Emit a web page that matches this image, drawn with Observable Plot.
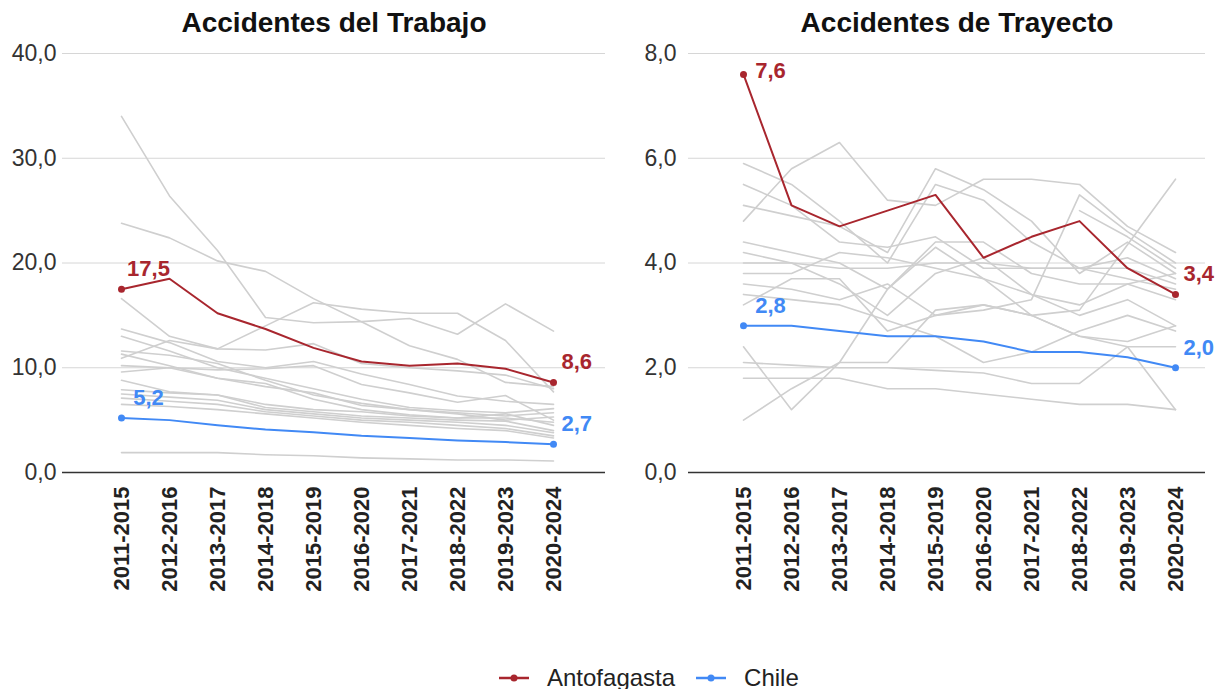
<!DOCTYPE html>
<html>
<head>
<meta charset="utf-8">
<script src="https://cdn.jsdelivr.net/npm/d3@7"></script>
<script src="https://cdn.jsdelivr.net/npm/@observablehq/plot@0.6"></script>
<style>
  html, body { margin: 0; padding: 0; background: #fff; }
  body { width: 1224px; height: 689px; position: relative; overflow: hidden; font-family: "Liberation Sans", Arial, sans-serif; }
  #charts { display: flex; flex-direction: row; }
  .panel { width: 612px; position: relative; }
  .title { position: absolute; top: 0; left: 0; width: 612px; padding-top: 8px; line-height: 30px; font-size: 28px; font-weight: bold; color: #111; text-align: center; }
  #left .title { transform: translateX(28px); }
  #right .title { transform: translateX(39px); }
  .panel svg { display: block; }
  #legend { position: absolute; left: 498px; top: 664px; display: flex; align-items: center; font-size: 24px; color: #222; }
  #legend .item { display: flex; align-items: center; margin-right: 20px; }
  #legend svg { margin-right: 17px; }
</style>
</head>
<body>
<div id="charts">
  <div class="panel" id="left"></div>
  <div class="panel" id="right"></div>
</div>
<div id="legend"></div>
<script>
const periods = ["2011-2015","2012-2016","2013-2017","2014-2018","2015-2019","2016-2020","2017-2021","2018-2022","2019-2023","2020-2024"];

// Accidentes del Trabajo
const trabajoAntofagasta = [17.5, 18.5, 15.2, 13.7, 11.9, 10.6, 10.2, 10.4, 9.9, 8.6];
const trabajoChile = [5.2, 5.0, 4.5, 4.1, 3.85, 3.5, 3.3, 3.05, 2.9, 2.7];
const trabajoOtras = [
  [34.0, 26.4, 21.2, 14.8, 14.3, 14.4, 14.7, 13.2, 16.1, 13.5],
  [23.8, 22.4, 20.2, 19.2, 16.6, 14.4, 12.1, 10.8, 8.6, 8.2],
  [10.9, 12.6, 11.8, 14.0, 16.2, 15.6, 15.2, 15.2, 12.6, 7.7],
  [16.6, 13.0, 11.8, 11.7, 12.3, 10.4, 10.0, 9.7, 9.3, 8.0],
  [13.7, 12.4, 10.6, 10.0, 10.6, 9.4, 8.4, 7.3, 6.8, 6.5],
  [13.0, 11.6, 10.0, 9.0, 8.0, 7.0, 6.2, 5.9, 5.7, 6.1],
  [11.6, 11.2, 10.4, 8.8, 7.4, 6.6, 6.0, 5.7, 5.4, 5.7],
  [11.3, 10.2, 9.0, 8.2, 7.6, 6.4, 6.0, 5.6, 5.0, 5.3],
  [10.2, 10.0, 9.0, 8.5, 7.0, 6.0, 5.5, 5.2, 5.2, 4.8],
  [9.6, 10.0, 9.8, 9.9, 10.2, 8.4, 7.6, 6.7, 7.35, 5.0],
  [8.8, 7.7, 7.4, 6.5, 6.0, 5.8, 5.4, 5.2, 5.6, 4.5],
  [7.9, 7.6, 7.4, 6.2, 5.8, 5.4, 5.2, 5.0, 4.9, 4.0],
  [7.5, 7.2, 6.9, 6.0, 5.6, 5.2, 5.0, 4.8, 4.5, 3.8],
  [7.1, 6.8, 6.5, 5.8, 5.4, 5.0, 4.8, 4.5, 4.2, 3.5],
  [6.5, 6.3, 6.0, 5.6, 5.2, 4.8, 4.5, 4.2, 4.0, 3.3],
  [1.9, 1.9, 1.9, 1.7, 1.6, 1.4, 1.3, 1.2, 1.2, 1.1]
];
const trabajoTicks = [0, 10, 20, 30, 40];

// Accidentes de Trayecto
const trayectoAntofagasta = [7.6, 5.1, 4.7, 5.0, 5.3, 4.1, 4.5, 4.8, 3.9, 3.4];
const trayectoChile = [2.8, 2.8, 2.7, 2.6, 2.6, 2.5, 2.3, 2.3, 2.2, 2.0];
const trayectoOtras = [
  [4.8, 5.8, 6.3, 5.2, 5.1, 5.6, 5.6, 5.5, 4.7, 4.2],
  [5.9, 5.5, 4.8, 4.0, 5.5, 5.2, 4.4, 3.9, 3.7, 3.5],
  [5.5, 5.1, 4.4, 4.3, 4.5, 3.9, 3.9, 3.9, 4.1, 3.7],
  [5.1, 4.9, 4.7, 4.2, 5.8, 5.4, 4.8, 3.8, 4.4, 3.8],
  [4.4, 4.2, 4.0, 3.5, 4.4, 4.4, 3.8, 3.6, 3.6, 3.3],
  [4.2, 4.0, 3.6, 3.0, 3.8, 4.1, 3.4, 3.0, 3.3, 2.8],
  [4.0, 4.0, 3.9, 3.9, 4.0, 4.0, 3.9, 3.9, 3.9, 3.6],
  [3.8, 3.8, 4.2, 4.1, 3.9, 3.7, 3.4, 3.2, 3.6, 3.8],
  [3.6, 3.5, 3.3, 3.6, 3.0, 3.2, 3.0, 2.6, 2.4, 2.4],
  [3.2, 3.7, 3.7, 2.7, 3.0, 3.1, 3.3, 5.3, 4.6, 4.0],
  [2.4, 1.2, 2.1, 2.1, 3.1, 3.2, 3.0, 2.6, 2.5, 2.8],
  [3.4, 3.3, 3.2, 2.9, 2.6, 2.1, 2.3, 2.7, 3.0, 2.7],
  [2.1, 2.05, 2.0, 2.0, 1.95, 1.9, 1.7, 1.7, 2.4, 1.2],
  [1.8, 1.8, 1.8, 1.6, 1.6, 1.5, 1.4, 1.3, 1.3, 1.2],
  [1.0, 1.6, 2.1, 3.5, 4.3, 3.7, 3.0, 3.1, 4.35, 5.6],
  [null, null, null, null, null, null, null, 5.0, 4.5, 3.9]
];
const trayectoTicks = [0, 2, 4, 6, 8];

const RED = "#a8262e";
const BLUE = "#4189f5";
const GRAY = "#cfcfcf";
const FONT = "Liberation Sans, Arial, sans-serif";
const fmt = d => d3.format(".1f")(d).replace(".", ",");

function rows(values, serie) {
  return periods.map((p, i) => ({period: p, value: values[i], serie}));
}

function chart({otras, antof, chile, ticks, marginLeft, marginRight, xRange, padY, firstDy}) {
  const gray = otras.flatMap((v, k) => rows(v, "r" + k));
  const red = rows(antof, "Antofagasta");
  const blue = rows(chile, "Chile");
  const ends = d => [d[0], d[d.length - 1]];
  const n = periods.length;
  return Plot.plot({
    width: 612,
    height: 622,
    marginLeft, marginRight,
    marginTop: 53,
    marginBottom: 150,
    style: {fontFamily: FONT, background: "transparent"},
    x: {type: "point", domain: periods, range: xRange, padding: 0, label: null},
    y: {domain: [0, ticks[ticks.length - 1]], label: null},
    marks: [
      Plot.ruleY(ticks.slice(1), {stroke: "#d6d6d6", strokeWidth: 1}),
      Plot.line(gray, {x: "period", y: "value", z: "serie", stroke: GRAY, strokeWidth: 1.6}),
      Plot.ruleY([0], {stroke: "#333", strokeWidth: 1.6}),
      Plot.line(red, {x: "period", y: "value", stroke: RED, strokeWidth: 2}),
      Plot.line(blue, {x: "period", y: "value", stroke: BLUE, strokeWidth: 2}),
      Plot.dot(ends(red), {x: "period", y: "value", fill: RED, r: 3.5}),
      Plot.dot(ends(blue), {x: "period", y: "value", fill: BLUE, r: 3.5}),
      Plot.text([red[0]], {x: "period", y: "value", text: d => fmt(d.value), fill: RED, fontWeight: "bold", fontSize: 22, textAnchor: "middle", dx: 27, dy: firstDy}),
      Plot.text([blue[0]], {x: "period", y: "value", text: d => fmt(d.value), fill: BLUE, fontWeight: "bold", fontSize: 22, textAnchor: "middle", dx: 27, dy: -20}),
      Plot.text([red[n - 1]], {x: "period", y: "value", text: d => fmt(d.value), fill: RED, fontWeight: "bold", fontSize: 22, textAnchor: "start", dx: 8, dy: -20}),
      Plot.text([blue[n - 1]], {x: "period", y: "value", text: d => fmt(d.value), fill: BLUE, fontWeight: "bold", fontSize: 22, textAnchor: "start", dx: 8, dy: -20}),
      Plot.axisY({ticks, tickFormat: fmt, tickSize: 0, tickPadding: padY, fontSize: 23, fill: "#333", label: null}),
      Plot.axisX({tickRotate: -90, tickSize: 0, tickPadding: 14, fontSize: 22, fontWeight: "bold", fill: "#222", label: null})
    ]
  });
}

const leftPanel = document.getElementById("left");
leftPanel.appendChild(chart({
  otras: trabajoOtras, antof: trabajoAntofagasta, chile: trabajoChile, ticks: trabajoTicks,
  marginLeft: 62, marginRight: 7, xRange: [119, 555], padY: 6, firstDy: -20
}));
const rightPanel = document.getElementById("right");
rightPanel.appendChild(chart({
  otras: trayectoOtras, antof: trayectoAntofagasta, chile: trayectoChile, ticks: trayectoTicks,
  marginLeft: 76, marginRight: 19, xRange: [129, 564], padY: 12, firstDy: -3
}));

[[leftPanel, "Accidentes del Trabajo"], [rightPanel, "Accidentes de Trayecto"]].forEach(([panel, text]) => {
  const t = document.createElement("div");
  t.className = "title";
  t.textContent = text;
  panel.appendChild(t);
});

// Legend
const legend = document.getElementById("legend");
[["Antofagasta", RED], ["Chile", BLUE]].forEach(([name, color]) => {
  const item = document.createElement("div");
  item.className = "item";
  item.innerHTML = `<svg width="32" height="10"><line x1="1" y1="5" x2="31" y2="5" stroke="${color}" stroke-width="2.5"/><circle cx="16" cy="5" r="3.5" fill="${color}"/></svg><span>${name}</span>`;
  legend.appendChild(item);
});
</script>
</body>
</html>
